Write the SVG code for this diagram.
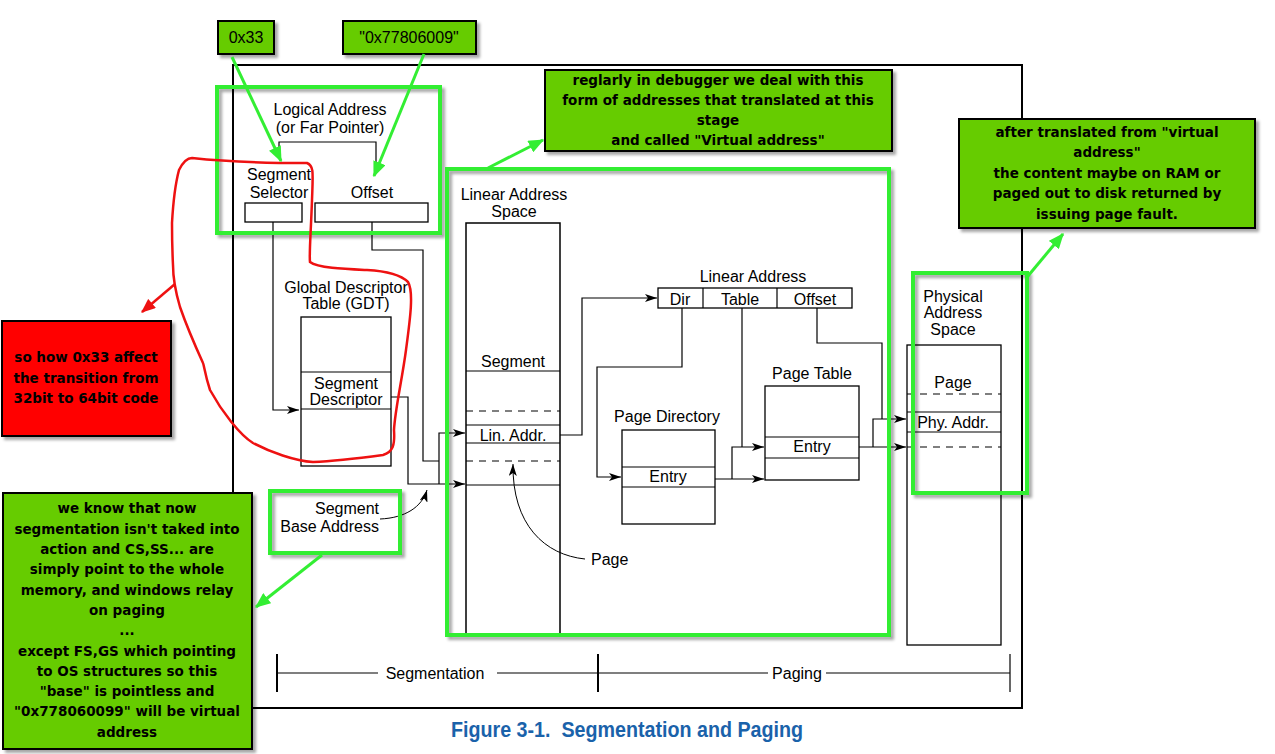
<svg xmlns="http://www.w3.org/2000/svg" width="1275" height="754" viewBox="0 0 1275 754">
<style>
.t{font-family:"Liberation Sans",Arial,sans-serif;font-size:16px;fill:#000}
.m{text-anchor:middle}
.a{font-family:"DejaVu Sans",Verdana,sans-serif;font-size:13.5px;font-weight:bold;fill:#000;text-anchor:middle}
.box{fill:#fff;stroke:#000;stroke-width:1.3}
.ln{fill:none;stroke:#000;stroke-width:1.2}
.dash{fill:none;stroke:#000;stroke-width:1.2;stroke-dasharray:7 6}
.gb{fill:none;stroke:#33ee33;stroke-width:4}
.note{fill:#66cc00;stroke:#000;stroke-width:2}
.garr{fill:none;stroke:#33ee33;stroke-width:3}
.frame{fill:none;stroke:#000;stroke-width:2}
</style>
<defs>
<filter id="sh" x="-10%" y="-10%" width="130%" height="130%">
<feDropShadow dx="3" dy="3" stdDeviation="1.5" flood-color="#000" flood-opacity="0.35"/>
</filter>
<marker id="ar" viewBox="0 0 12 8" refX="12" refY="4" markerWidth="14" markerHeight="8" markerUnits="userSpaceOnUse" orient="auto">
<path d="M0,0 L12,4 L0,8 L3,4 z" fill="#000"/>
</marker>
<marker id="ga" viewBox="0 0 12 10" refX="11" refY="5" markerWidth="16" markerHeight="13" markerUnits="userSpaceOnUse" orient="auto">
<path d="M0,0 L12,5 L0,10 z" fill="#33ee33"/>
</marker>
<marker id="ra" viewBox="0 0 12 10" refX="11" refY="5" markerWidth="15" markerHeight="12" markerUnits="userSpaceOnUse" orient="auto">
<path d="M0,0 L12,5 L0,10 z" fill="#ee1111"/>
</marker>
</defs>
<rect width="1275" height="754" fill="#fff"/>

<g id="frame">
<path class="frame" d="M233,708 V65 H1022 V708 H233"/>
</g>

<g id="logical-address">
<text class="t m" x="330" y="115">Logical Address</text>
<text class="t m" x="330" y="133">(or Far Pointer)</text>
<path class="ln" d="M279,156 V142 H376 V170"/>
<text class="t m" x="279" y="180">Segment</text>
<text class="t m" x="279" y="198">Selector</text>
<text class="t m" x="372" y="198">Offset</text>
<rect class="box" x="245" y="203" width="57" height="19"/>
<rect class="box" x="315" y="203" width="113" height="19"/>
</g>

<g id="gdt">
<text class="t m" x="346" y="293">Global Descriptor</text>
<text class="t m" x="346" y="309">Table (GDT)</text>
<rect class="box" x="301" y="317" width="90" height="149"/>
<path class="ln" d="M301,372 H391 M301,409 H391"/>
<text class="t m" x="346" y="389">Segment</text>
<text class="t m" x="346" y="405">Descriptor</text>
</g>

<g id="linear-space">
<text class="t m" x="514" y="200">Linear Address</text>
<text class="t m" x="514" y="217">Space</text>
<path class="ln" d="M466,633 V223 H560 V633" style="stroke-width:1.5"/>
<text class="t m" x="513" y="367">Segment</text>
<path class="ln" d="M466,371 H560 M466,425 H560 M466,443 H560 M466,485 H560"/>
<path class="dash" d="M466,411 H560 M466,461 H560"/>
<text class="t m" x="513" y="441">Lin. Addr.</text>
<text class="t" x="591" y="565">Page</text>
</g>

<g id="linear-address">
<text class="t m" x="753" y="282">Linear Address</text>
<rect class="box" x="658" y="288" width="194" height="20"/>
<path class="ln" d="M703,288 V308 M777,288 V308"/>
<text class="t m" x="680" y="305">Dir</text>
<text class="t m" x="740" y="305">Table</text>
<text class="t m" x="815" y="305">Offset</text>
</g>

<g id="page-directory">
<text class="t m" x="667" y="422">Page Directory</text>
<rect class="box" x="622" y="430" width="93" height="94"/>
<path class="ln" d="M622,467 H715 M622,487 H715"/>
<text class="t m" x="668" y="482">Entry</text>
</g>

<g id="page-table">
<text class="t m" x="812" y="379">Page Table</text>
<rect class="box" x="765" y="386" width="94" height="94"/>
<path class="ln" d="M765,437 H859 M765,458 H859"/>
<text class="t m" x="812" y="452">Entry</text>
</g>

<g id="physical-space">
<text class="t m" x="953" y="302">Physical</text>
<text class="t m" x="953" y="318">Address</text>
<text class="t m" x="953" y="335">Space</text>
<rect class="box" x="907" y="345" width="94" height="300"/>
<path class="ln" d="M907,412 H1001 M907,432 H1001"/>
<path class="dash" d="M907,394 H1001 M907,447 H1001"/>
<text class="t m" x="953" y="388">Page</text>
<text class="t m" x="953" y="428">Phy. Addr.</text>
</g>

<g id="segment-base">
<text class="t" x="379" y="514" text-anchor="end">Segment</text>
<text class="t" x="379" y="532" text-anchor="end">Base Address</text>
</g>

<g id="axis">
<path class="ln" d="M277,673 H378 M497,673 H768 M826,673 H1010"/>
<path class="ln" d="M277,654 V692 M598,654 V692" style="stroke-width:2"/>
<path class="ln" d="M1010,654 V692"/>
<text class="t m" x="435" y="679">Segmentation</text>
<text class="t m" x="797" y="679">Paging</text>
</g>

<g id="caption">
<text x="627" y="737" text-anchor="middle" textLength="352" lengthAdjust="spacingAndGlyphs" style="font-family:'Liberation Sans',Arial,sans-serif;font-size:22px;font-weight:bold;fill:#1a62aa">Figure 3-1.&#160; Segmentation and Paging</text>
</g>

<g id="connectors">
<path class="ln" d="M273,222 V410 H299" marker-end="url(#ar)"/>
<path class="ln" d="M372,222 V250 H423 V461 H439"/>
<path class="ln" d="M439,484 V433 H465" marker-end="url(#ar)"/>
<path class="ln" d="M391,397 H408 V484 H465" marker-end="url(#ar)"/>
<path class="ln" d="M560,435 H582 V298 H657" marker-end="url(#ar)"/>
<path class="ln" d="M682,308 V367 H597 V477 H621" marker-end="url(#ar)"/>
<path class="ln" d="M742,308 V447"/>
<path class="ln" d="M732,479 V447 H764" marker-end="url(#ar)"/>
<path class="ln" d="M715,479 H764" marker-end="url(#ar)"/>
<path class="ln" d="M817,308 V343 H882 V419"/>
<path class="ln" d="M873,447 V419 H906" marker-end="url(#ar)"/>
<path class="ln" d="M859,447 H906" marker-end="url(#ar)"/>
<path class="ln" d="M585,559 C545,555 512,525 513,464" marker-end="url(#ar)" style="stroke-width:1"/>
<path class="ln" d="M380,519 C405,518 422,507 427,490" marker-end="url(#ar)" style="stroke-width:1"/>
</g>

<g id="highlights">
<rect class="gb" x="217" y="87" width="223" height="146" filter="url(#sh)"/>
<rect class="gb" x="447" y="169" width="442" height="466" filter="url(#sh)"/>
<rect class="gb" x="913" y="273" width="114" height="220" filter="url(#sh)"/>
<rect class="gb" x="270" y="491" width="130" height="62" filter="url(#sh)"/>
</g>

<g id="red-loop">
<path d="M192,158 C220,161 260,163 307,163 C314,166 313,172 312,200 C311,230 309,255 310,262 C318,268 345,269 367,270 C385,271 400,274 408,282 C414,292 410,320 406,350 C402,380 395,410 394,430 C395,445 393,452 383,455 C360,458 335,461 313,462 C295,461 270,452 253,443 C240,435 222,412 210,390 C205,375 204,365 203,363 C198,352 188,330 180,307 C175,290 173,275 173,265 C172,245 172,225 172,223 C173,205 175,185 179,170 C183,162 187,158 192,158 Z" fill="none" stroke="#ee1111" stroke-width="2.5"/>
<path d="M175,284 L142,312" stroke="#ee1111" stroke-width="2.5" fill="none" marker-end="url(#ra)"/>
</g>

<g id="note-0x33">
<rect class="note" x="218" y="21" width="56" height="33" filter="url(#sh)"/>
<text class="t m" x="246" y="43">0x33</text>
</g>
<g id="note-offset">
<rect class="note" x="343" y="21" width="133" height="33" filter="url(#sh)"/>
<text class="t m" x="409" y="43">"0x77806009"</text>
</g>
<g id="note-virtual">
<rect class="note" x="545" y="70" width="347" height="81" filter="url(#sh)"/>
<text class="a" x="718" y="85">reglarly in debugger we deal with this</text>
<text class="a" x="718" y="105">form of addresses that translated at this</text>
<text class="a" x="718" y="125">stage</text>
<text class="a" x="718" y="145">and called "Virtual address"</text>
</g>
<g id="note-physical">
<rect class="note" x="959" y="119" width="296" height="109" filter="url(#sh)"/>
<text class="a" x="1107" y="137">after translated from "virtual</text>
<text class="a" x="1107" y="157">address"</text>
<text class="a" x="1107" y="178">the content maybe on RAM or</text>
<text class="a" x="1107" y="198">paged out to disk returned by</text>
<text class="a" x="1107" y="219">issuing page fault.</text>
</g>
<g id="note-red">
<rect x="2" y="321" width="169" height="115" fill="#ff0000" stroke="#000" stroke-width="2" filter="url(#sh)"/>
<text class="a" x="86" y="362">so how 0x33 affect</text>
<text class="a" x="86" y="383">the transition from</text>
<text class="a" x="86" y="403">32bit to 64bit code</text>
</g>
<g id="note-segmentation">
<rect class="note" x="3" y="493" width="249" height="256" filter="url(#sh)"/>
<text class="a" x="127" y="513">we know that now</text>
<text class="a" x="127" y="534">segmentation isn't taked into</text>
<text class="a" x="127" y="554">action and CS,SS... are</text>
<text class="a" x="127" y="574">simply point to the whole</text>
<text class="a" x="127" y="595">memory, and windows relay</text>
<text class="a" x="127" y="615">on paging</text>
<text class="a" x="127" y="635">...</text>
<text class="a" x="127" y="656">except FS,GS which pointing</text>
<text class="a" x="127" y="676">to OS structures so this</text>
<text class="a" x="127" y="696">"base" is pointless and</text>
<text class="a" x="127" y="716">"0x778060099" will be virtual</text>
<text class="a" x="127" y="737">address</text>
</g>

<g id="note-arrows">
<path class="garr" d="M232,57 L281,161" marker-end="url(#ga)"/>
<path class="garr" d="M424,54 L374,176" marker-end="url(#ga)"/>
<path class="garr" d="M488,168 L543,140" marker-end="url(#ga)"/>
<path class="garr" d="M1028,276 L1063,234" marker-end="url(#ga)"/>
<path class="garr" d="M322,555 L256,607" marker-end="url(#ga)"/>
</g>
</svg>
